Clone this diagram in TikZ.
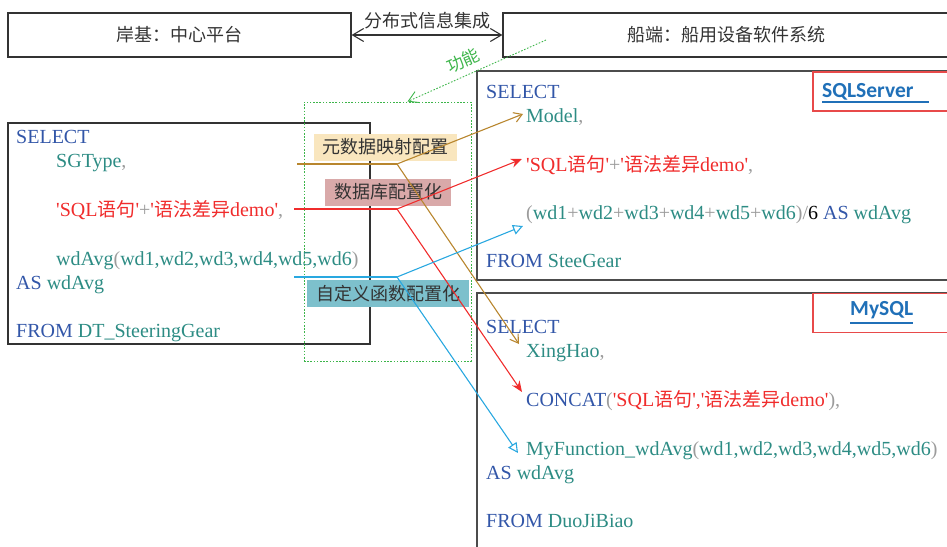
\documentclass[tikz,border=0pt]{standalone}
\usepackage{fontspec}
\setmainfont{Liberation Serif}
\newfontfamily\cjk{Noto Sans CJK SC}
\newfontfamily\lblfont{Carlito}
\usetikzlibrary{arrows.meta}
\definecolor{kwc}{HTML}{3256A8}
\definecolor{idc}{HTML}{2D8C84}
\definecolor{redc}{HTML}{F02C2C}
\definecolor{grayc}{HTML}{9C9C9C}
\definecolor{goldc}{HTML}{B8862E}
\definecolor{bluec}{HTML}{29A8E0}
\definecolor{greenc}{HTML}{3DB54A}
\definecolor{ulc}{HTML}{2070B8}
\definecolor{framec}{HTML}{E84A4A}
\definecolor{fillgold}{HTML}{F9E6BE}
\definecolor{fillred}{HTML}{D9A9A9}
\definecolor{fillblue}{HTML}{7DC0CC}
\definecolor{txtc}{HTML}{333333}
\newcommand\sqlkw[1]{\textcolor{kwc}{#1}}
\newcommand\sqlid[1]{\textcolor{idc}{#1}}
\newcommand\sqlred[1]{\textcolor{redc}{#1}}
\newcommand\sqlgray[1]{\textcolor{grayc}{#1}}
\newcommand\zh[1]{{\cjk\fontsize{19}{19}\selectfont #1}}
\newcommand\sq{\textquotesingle}
\begin{document}
\begin{tikzpicture}[x=1pt,y=-1pt,
  code/.style={anchor=base west,inner sep=0pt,font=\fontsize{20}{24}\selectfont},
  topbox/.style={draw=txtc,line width=1.2pt,minimum height=44pt,inner sep=0pt,
    font=\cjk\fontsize{18}{18}\selectfont,text=txtc},
  sqlbox/.style={draw=txtc,line width=1.2pt,inner sep=0pt},
  dbbox/.style={draw=framec,line width=1.2pt,inner sep=0pt,minimum height=39pt},
  dblbl/.style={anchor=base west,inner sep=0pt,font=\lblfont\bfseries\fontsize{21.5}{21.5}\selectfont,text=ulc},
  tagbox/.style={inner sep=0pt,minimum height=27pt,font=\cjk\fontsize{18}{18}\selectfont,text=txtc},
  gold/.style={draw=goldc,line width=1.1pt},
  redl/.style={draw=redc,line width=1.1pt},
  bluel/.style={draw=bluec,line width=1.1pt},
]
\useasboundingbox (0,0) rectangle (947,546);
\clip (0,0) rectangle (947,546);

% top boxes
\node[topbox,minimum width=343pt] (shore) at (179.5,35) {岸基：中心平台};
\node[topbox,minimum width=446pt] (ship) at (726,35) {船端：船用设备软件系统};
\draw[txtc,line width=1.1pt,{Straight Barb[length=11pt,width=13pt]}-{Straight Barb[length=11pt,width=13pt]}] (shore.east) -- (ship.west)
  node[midway,above=5pt,font=\cjk\fontsize{18}{18}\selectfont,text=txtc,inner sep=0pt] (dist) {分布式信息集成};

% boxes
\node[sqlbox,minimum width=362pt,minimum height=221pt] (lbox) at (189,233.5) {};
\node[sqlbox,draw=black!70,line width=1.6pt,minimum width=473pt,minimum height=209pt] (ssbox) at (713.5,175.5) {};
\node[sqlbox,draw=black!70,line width=1.6pt,minimum width=473pt,minimum height=267pt] (mybox) at (713.5,426.5) {};
\node[dbbox,minimum width=140pt] (ssframe) at (883,91.5) {};
\node[dbbox,minimum width=140pt] (myframe) at (883,313) {};
\node[dblbl] (sslbl) at (822,97) {SQLServer};
\draw[ulc,line width=1.8pt] ([yshift=-5pt]sslbl.base west) -- ++(107,0);
\node[dblbl] (mylbl) at (850,315) {MySQL};
\draw[ulc,line width=1.8pt] ([yshift=-8pt]mylbl.base west) -- ([yshift=-8pt]mylbl.base east);

% green dotted region
\node[draw=greenc,line width=0.9pt,dash pattern=on 1.6pt off 1.6pt,minimum width=167pt,minimum height=259pt,inner sep=0pt] (grect) at (387.5,231.5) {};
\coordinate (gS) at (546,40);
\draw[greenc,line width=0.9pt,dash pattern=on 1.6pt off 1.6pt,-{Straight Barb[length=10pt,width=12pt]}] (gS) -- ([xshift=20pt]grect.north);
\node[rotate=24,text=greenc,font=\cjk\fontsize{17}{17}\selectfont,inner sep=0pt] (func) at (463,61) {功能};

% left SQL
\node[code] (l1) at (16,143) {\sqlkw{SELECT}};
\node[code] (l2) at (56,167) {\sqlid{SGType}\sqlgray{,}};
\node[code] (l3) at (56,216) {\sqlred{\sq SQL\zh{语句}\sq}\sqlgray{+}\sqlred{\sq\zh{语法差异}demo\sq}\sqlgray{,}};
\node[code] (l4) at (56,265) {\sqlid{wdAvg}\sqlgray{(}\sqlid{wd1,wd2,wd3,wd4,wd5,wd6}\sqlgray{)}};
\node[code] (l5) at (16,289) {\sqlkw{AS} \sqlid{wdAvg}};
\node[code] (l6) at (16,337) {\sqlkw{FROM} \sqlid{DT\_SteeringGear}};

% SQLServer
\node[code] (s1) at (486,98) {\sqlkw{SELECT}};
\node[code] (s2) at (526,122) {\sqlid{Model}\sqlgray{,}};
\node[code] (s3) at (526,171) {\sqlred{\sq SQL\zh{语句}\sq}\sqlgray{+}\sqlred{\sq\zh{语法差异}demo\sq}\sqlgray{,}};
\node[code] (s4) at (526,219) {\sqlgray{(}\sqlid{wd1}\sqlgray{+}\sqlid{wd2}\sqlgray{+}\sqlid{wd3}\sqlgray{+}\sqlid{wd4}\sqlgray{+}\sqlid{wd5}\sqlgray{+}\sqlid{wd6}\sqlgray{)/}6 \sqlkw{AS} \sqlid{wdAvg}};
\node[code] (s5) at (486,267) {\sqlkw{FROM} \sqlid{SteeGear}};

% MySQL
\node[code] (m1) at (486,333) {\sqlkw{SELECT}};
\node[code] (m2) at (526,357) {\sqlid{XingHao}\sqlgray{,}};
\node[code] (m3) at (526,406) {\sqlkw{CONCAT}\sqlgray{(}\sqlred{\sq SQL\zh{语句}\sq,\sq\zh{语法差异}demo\sq}\sqlgray{),}};
\node[code] (m4) at (526,455) {\sqlid{MyFunction\_wdAvg}\sqlgray{(}\sqlid{wd1,wd2,wd3,wd4,wd5,wd6}\sqlgray{)}};
\node[code] (m5) at (486,479) {\sqlkw{AS} \sqlid{wdAvg}};
\node[code] (m6) at (486,527) {\sqlkw{FROM} \sqlid{DuoJiBiao}};

% tag boxes
\node[tagbox,fill=fillgold,minimum width=143pt] (tgold) at (385.5,147) {元数据映射配置};
\node[tagbox,fill=fillred,minimum width=126pt] (tred) at (388,192) {数据库配置化};
\node[tagbox,fill=fillblue,minimum width=162pt] (tblue) at (388,293.5) {自定义函数配置化};

% connectors
\coordinate (gA) at (297,164); \coordinate (gJ) at (397,164);
\coordinate (gT1) at (523,114); \coordinate (gT2) at (519,344);
\coordinate (rA) at (294,209); \coordinate (rJ) at (397,209);
\coordinate (rT1) at (522,159); \coordinate (rT2) at (522,392);
\coordinate (bA) at (294,277); \coordinate (bJ) at (397,277);
\coordinate (bT1) at (523,226); \coordinate (bT2) at (518,453);

\draw[gold] (gA) -- (gJ);
\draw[gold,-{Straight Barb[length=8pt,width=10pt]}] (gJ) -- (gT1);
\draw[gold,-{Straight Barb[length=8pt,width=10pt]}] (gJ) -- (gT2);
\draw[redl] (rA) -- (rJ);
\draw[redl,-{Stealth[length=11pt,width=9pt]}] (rJ) -- (rT1);
\draw[redl,-{Stealth[length=11pt,width=9pt]}] (rJ) -- (rT2);
\draw[bluel] (bA) -- (bJ);
\draw[bluel,-{Triangle[open,length=10pt,width=10pt]}] (bJ) -- (bT1);
\draw[bluel,-{Triangle[open,length=10pt,width=10pt]}] (bJ) -- (bT2);
\end{tikzpicture}
\end{document}
